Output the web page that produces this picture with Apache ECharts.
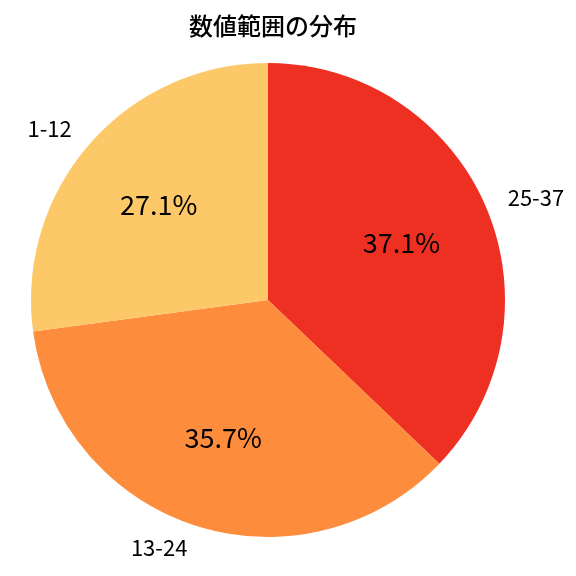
<!DOCTYPE html>
<html>
<head>
<meta charset="utf-8">
<script src="https://cdn.jsdelivr.net/npm/echarts@6/dist/echarts.min.js"></script>
<style>html,body{margin:0;padding:0;background:#fff;}#c{width:576px;height:576px;}</style>
</head>
<body>
<div id="c"></div>
<script>
const titleText = '数値範囲の分布';
const categories = ['25-37', '13-24', '1-12'];
const percents = [37.1, 35.7, 27.1];
const colors = ['#EE3023', '#FD8C3C', '#FDC868'];

const R = 237;
const font = '"Noto Sans CJK JP", "Noto Sans", sans-serif';
const data = categories.map((c, i) => ({ name: c, value: percents[i], itemStyle: { color: colors[i] } }));

const chart = echarts.init(document.getElementById('c'), null, { renderer: 'canvas' });
chart.setOption({
  animation: false,
  title: {
    text: titleText, left: 268, top: 9, textAlign: 'center',
    textStyle: { fontFamily: font, fontSize: 24, fontWeight: 500, color: '#000' }
  },
  series: [
    {
      type: 'pie', center: [268, 300], radius: [0, R], startAngle: 90, clockwise: true,
      avoidLabelOverlap: false, silent: true,
      data: data,
      itemStyle: { borderWidth: 0 },
      label: {
        show: true, position: 'outside', formatter: '{b}', distanceToLabelLine: 0,
        fontFamily: font, fontSize: 22, color: '#000'
      },
      labelLine: { show: false, length: R * 0.1, length2: 0 }
    },
    {
      type: 'pie', center: [268, 300], radius: [0, R * 1.2], startAngle: 90, clockwise: true,
      avoidLabelOverlap: false, silent: true,
      data: data.map(d => ({ name: d.name, value: d.value })),
      itemStyle: { color: 'rgba(0,0,0,0)', borderWidth: 0 },
      label: {
        show: true, position: 'inside',
        formatter: p => p.value.toFixed(1) + '%',
        fontFamily: font, fontSize: 27, color: '#000'
      },
      labelLine: { show: false }
    }
  ]
});
</script>
</body>
</html>
